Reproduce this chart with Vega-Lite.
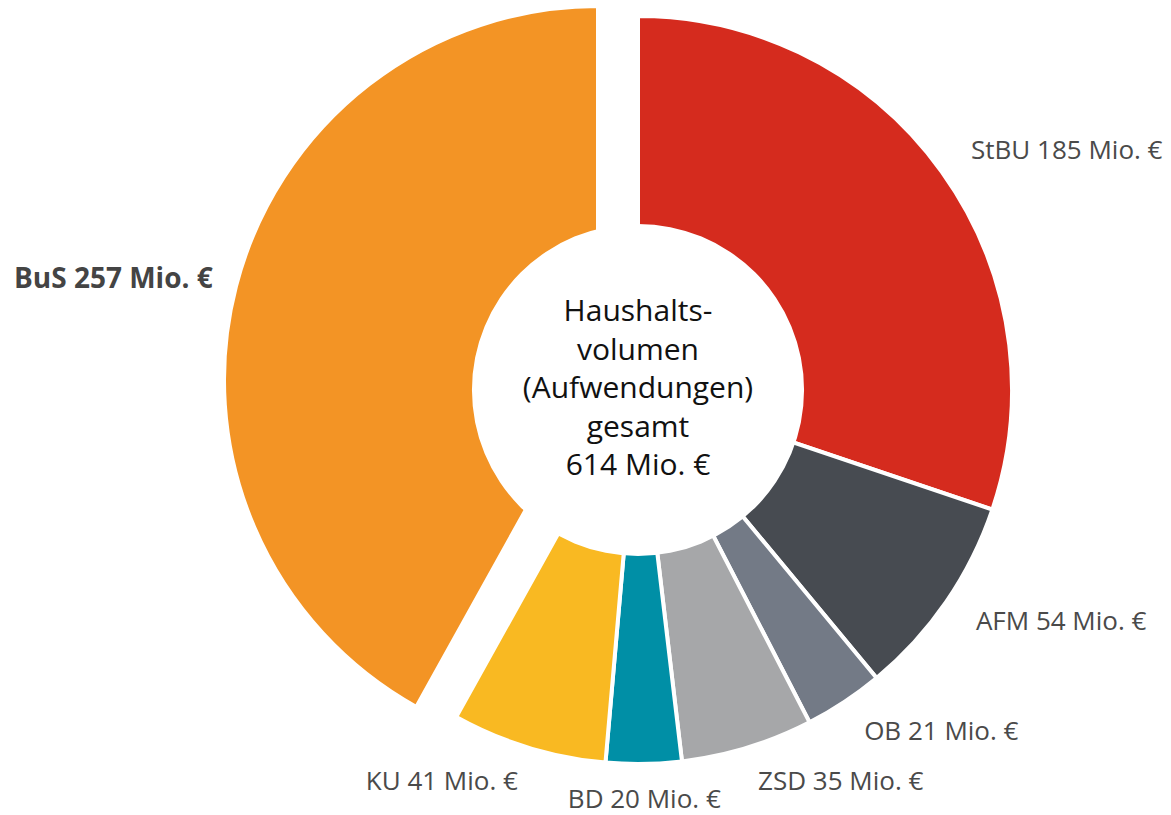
{
  "$schema": "https://vega.github.io/schema/vega-lite/v6.json",
  "width": 1000,
  "height": 780,
  "autosize": {"type": "none"},
  "padding": {"left": 138, "right": 33, "top": 0, "bottom": 35},
  "background": "white",
  "config": {"view": {"stroke": null}},
  "data": {
    "values": [
      {"name": "StBU", "value": 185, "order": 1, "label": "StBU 185 Mio. €"},
      {"name": "AFM", "value": 54, "order": 2, "label": "AFM 54 Mio. €"},
      {"name": "OB", "value": 21, "order": 3, "label": "OB 21 Mio. €"},
      {"name": "ZSD", "value": 35, "order": 4, "label": "ZSD 35 Mio. €"},
      {"name": "BD", "value": 20, "order": 5, "label": "BD 20 Mio. €"},
      {"name": "KU", "value": 41, "order": 6, "label": "KU 41 Mio. €"},
      {"name": "BuS", "value": 257, "order": 7, "label": "BuS 257 Mio. €"}
    ]
  },
  "layer": [
    {
      "mark": {"type": "arc", "innerRadius": 0, "outerRadius": 374, "stroke": "white", "strokeWidth": 4},
      "encoding": {
        "theta": {"field": "value", "type": "quantitative", "stack": true},
        "order": {"field": "order", "type": "quantitative", "sort": "ascending"},
        "color": {
          "field": "name", "type": "nominal", "legend": null,
          "scale": {
            "domain": ["StBU", "AFM", "OB", "ZSD", "BD", "KU", "BuS"],
            "range": ["#D52B1E", "#474B51", "#737A86", "#A6A7A9", "#008FA6", "#F9B922", "#F39425"]
          }
        },
        "opacity": {"condition": {"test": "datum.name === 'BuS'", "value": 0}, "value": 1}
      }
    },
    {
      "mark": {"type": "arc", "innerRadius": 0, "outerRadius": 374, "stroke": "white", "strokeWidth": 4, "xOffset": -40, "yOffset": -10},
      "encoding": {
        "theta": {"field": "value", "type": "quantitative", "stack": true},
        "order": {"field": "order", "type": "quantitative", "sort": "ascending"},
        "color": {"field": "name", "type": "nominal", "legend": null},
        "opacity": {"condition": {"test": "datum.name === 'BuS'", "value": 1}, "value": 0}
      }
    },
    {
      "data": {"values": [{"id": 1}]},
      "mark": {"type": "arc", "innerRadius": 0, "outerRadius": 166, "theta": 0, "theta2": 6.2832, "fill": "white"},
      "encoding": {}
    },
    {
      "mark": {"type": "text", "radius": 410, "align": "left", "baseline": "middle", "fontSize": 26, "font": "Open Sans", "fill": "#4a4a4a"},
      "encoding": {
        "theta": {"field": "value", "type": "quantitative", "stack": true},
        "order": {"field": "order", "type": "quantitative", "sort": "ascending"},
        "text": {"condition": {"test": "indexof(['StBU','AFM','OB','ZSD'], datum.name) >= 0", "field": "label", "type": "nominal"}, "value": ""}
      }
    },
    {
      "mark": {"type": "text", "radius": 410, "align": "center", "baseline": "middle", "fontSize": 26, "font": "Open Sans", "fill": "#4a4a4a"},
      "encoding": {
        "theta": {"field": "value", "type": "quantitative", "stack": true},
        "order": {"field": "order", "type": "quantitative", "sort": "ascending"},
        "text": {"condition": {"test": "datum.name === 'BD'", "field": "label", "type": "nominal"}, "value": ""}
      }
    },
    {
      "mark": {"type": "text", "radius": 410, "align": "right", "baseline": "middle", "fontSize": 26, "font": "Open Sans", "fill": "#4a4a4a"},
      "encoding": {
        "theta": {"field": "value", "type": "quantitative", "stack": true},
        "order": {"field": "order", "type": "quantitative", "sort": "ascending"},
        "text": {"condition": {"test": "datum.name === 'KU'", "field": "label", "type": "nominal"}, "value": ""}
      }
    },
    {
      "mark": {"type": "text", "radius": 398, "align": "right", "baseline": "middle", "fontSize": 28, "font": "Open Sans", "fontWeight": "bold", "fill": "#444444", "xOffset": -40, "yOffset": -10},
      "encoding": {
        "theta": {"field": "value", "type": "quantitative", "stack": true},
        "order": {"field": "order", "type": "quantitative", "sort": "ascending"},
        "text": {"condition": {"test": "datum.name === 'BuS'", "field": "label", "type": "nominal"}, "value": ""}
      }
    },
    {
      "data": {"values": [{"id": 1}]},
      "mark": {
        "type": "text",
        "text": ["Haushalts-", "volumen", "(Aufwendungen)", "gesamt", "614 Mio. €"],
        "fontSize": 30, "lineHeight": 38.5, "align": "center", "baseline": "middle", "dy": -78,
        "font": "Open Sans", "fill": "#111111"
      },
      "encoding": {}
    }
  ]
}
